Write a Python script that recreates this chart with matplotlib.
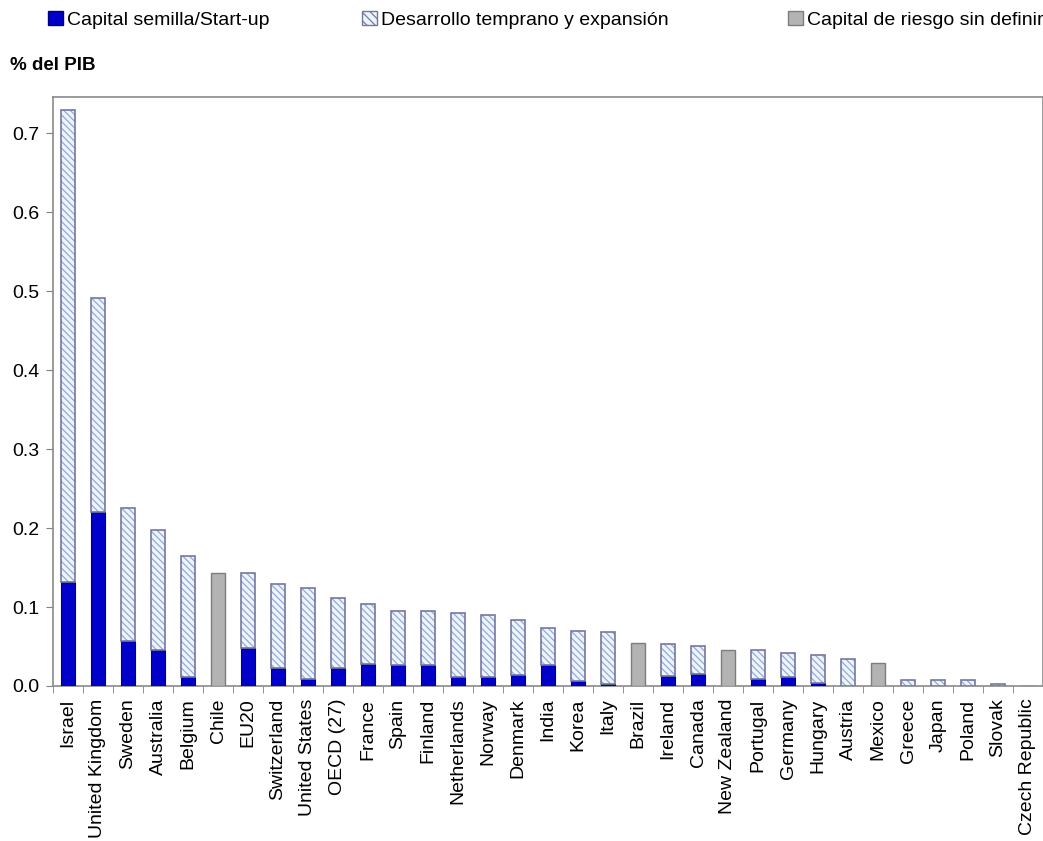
import numpy as np
import matplotlib
matplotlib.use('Agg')
import matplotlib.pyplot as plt
from matplotlib.patches import Patch

# Capital de riesgo por etapa, % del PIB
paises = ['Israel', 'United Kingdom', 'Sweden', 'Australia', 'Belgium', 'Chile', 'EU20',
          'Switzerland', 'United States', 'OECD (27)', 'France', 'Spain', 'Finland',
          'Netherlands', 'Norway', 'Denmark', 'India', 'Korea', 'Italy', 'Brazil',
          'Ireland', 'Canada', 'New Zealand', 'Portugal', 'Germany', 'Hungary',
          'Austria', 'Mexico', 'Greece', 'Japan', 'Poland', 'Slovak', 'Czech Republic']

# capital semilla / start-up
semilla = [0.132, 0.220, 0.057, 0.045, 0.011, 0.0, 0.048, 0.023, 0.009, 0.023, 0.028,
           0.026, 0.026, 0.011, 0.011, 0.014, 0.026, 0.006, 0.003, 0.0, 0.013, 0.015,
           0.0, 0.009, 0.011, 0.004, 0.0, 0.0, 0.0, 0.0, 0.0, 0.0, 0.0]

# total (semilla + desarrollo temprano y expansion)
total = [0.730, 0.491, 0.226, 0.197, 0.165, 0.0, 0.143, 0.129, 0.124, 0.112, 0.104,
         0.095, 0.095, 0.092, 0.090, 0.083, 0.073, 0.070, 0.068, 0.0, 0.053, 0.051,
         0.0, 0.046, 0.042, 0.039, 0.034, 0.0, 0.008, 0.008, 0.008, 0.003, 0.0]

# capital de riesgo sin definir
sin_definir = [0.0, 0.0, 0.0, 0.0, 0.0, 0.143, 0.0, 0.0, 0.0, 0.0, 0.0, 0.0, 0.0, 0.0,
               0.0, 0.0, 0.0, 0.0, 0.0, 0.055, 0.0, 0.0, 0.046, 0.0, 0.0, 0.0, 0.0,
               0.029, 0.0, 0.0, 0.0, 0.0, 0.0]

semilla = np.array(semilla)
total = np.array(total)
sin_definir = np.array(sin_definir)
desarrollo = total - semilla
x = np.arange(len(paises))

plt.rcParams['font.family'] = ['Liberation Sans', 'DejaVu Sans']
plt.rcParams['hatch.linewidth'] = 0.9

azul = '#0000c8'
borde_azul = '#00007a'
relleno = '#eef4fc'
rayas = '#93aad6'
borde_rayas = '#74789f'
gris = '#b3b3b3'
borde_gris = '#7d7d7d'
ancho = 0.48

fig = plt.figure(figsize=(10.43, 8.41), dpi=100)
ax = fig.add_axes([53 / 1043, 1 - 686 / 841, 990 / 1043, 589 / 841])

ax.bar(x, semilla, ancho, color=azul, edgecolor=borde_azul, linewidth=0.8, zorder=3)
hay = desarrollo > 0
ax.bar(x[hay], desarrollo[hay], ancho, bottom=semilla[hay], color=relleno,
       edgecolor=rayas, hatch='\\\\\\\\\\', linewidth=0, zorder=3)
ax.bar(x[hay], desarrollo[hay], ancho, bottom=semilla[hay], fill=False,
       edgecolor=borde_rayas, linewidth=1.2, zorder=4)
hay_g = sin_definir > 0
ax.bar(x[hay_g], sin_definir[hay_g], ancho, color=gris, edgecolor=borde_gris,
       linewidth=1.0, zorder=3)

ax.set_xlim(-0.5, len(paises) - 0.5)
ax.set_ylim(0, 0.746)
ax.set_yticks(np.arange(0, 0.71, 0.1))
ax.set_yticklabels(['%.1f' % v for v in np.arange(0, 0.71, 0.1)], fontsize=14)
ax.set_xticks(x)
ax.set_xticklabels(paises, rotation=90, fontsize=14, va='top', ha='center')
ax.set_xticks(np.arange(-0.5, len(paises), 1.0), minor=True)
ax.tick_params(axis='x', which='major', length=0, pad=9)
ax.tick_params(axis='x', which='minor', length=5, direction='out', color='#808080')
ax.tick_params(axis='y', length=5, direction='out', color='#808080', pad=5)

for lado in ['left', 'bottom', 'top', 'right']:
    ax.spines[lado].set_color('#8a8a8a')
    ax.spines[lado].set_linewidth(1.2)

fig.text(10 / 1043, 1 - 66 / 841, '% del PIB', fontsize=13.5, fontweight='bold',
         va='center', ha='left')

leyendas = [
    (Patch(facecolor=azul, edgecolor=borde_azul), 'Capital semilla/Start-up', 48),
    (Patch(facecolor=relleno, edgecolor=borde_rayas, hatch='\\\\\\\\'),
     'Desarrollo temprano y expansión', 362),
    (Patch(facecolor=gris, edgecolor=borde_gris), 'Capital de riesgo sin definir', 788),
]
for h, texto, px in leyendas:
    fig.legend(handles=[h], labels=[texto], loc='center left',
               bbox_to_anchor=(px / 1043, 1 - 20 / 841), frameon=False,
               fontsize=14, handlelength=0.75, handleheight=0.75,
               handletextpad=0.25, borderpad=0, borderaxespad=0)

fig.savefig('out.png', dpi=100)
